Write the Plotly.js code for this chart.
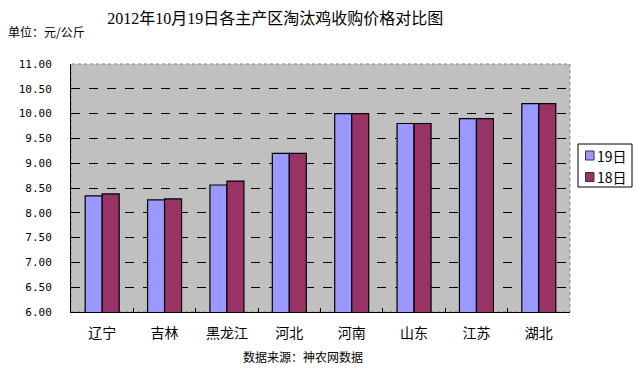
<!DOCTYPE html>
<html><head><meta charset="utf-8">
<script src="https://cdn.plot.ly/plotly-3.0.1.min.js"></script>
<style>body{margin:0;background:#fff}#c{width:637px;height:370px}</style>
</head><body><div id="c"></div>
<script>
const categories = ["辽宁","吉林","黑龙江","河北","河南","山东","江苏","湖北"];
const s19 = [8.34, 8.26, 8.56, 9.20, 10.00, 9.80, 9.90, 10.20];
const s18 = [8.38, 8.28, 8.64, 9.20, 10.00, 9.80, 9.90, 10.20];
const seriesNames = ["19日","18日"];
const seriesColors = ['#9999FF','#993366'];
const yTicks = [6,6.5,7,7.5,8,8.5,9,9.5,10,10.5,11];

const cjk = '"Noto Sans CJK SC", sans-serif';
const traces = [
  {type:'bar', x:categories, y:s19, name:seriesNames[0], marker:{color:seriesColors[0], line:{color:'#000', width:1.2}}},
  {type:'bar', x:categories, y:s18, name:seriesNames[1], marker:{color:seriesColors[1], line:{color:'#000', width:1.2}}}
];

// manual legend (pixel -> paper conversion for plot area 71..570 x, 64..312 y)
const px = x => (x-71)/499, py = y => (312-y)/248;
const shapes = [
  {type:'rect', xref:'paper', yref:'paper', x0:0, x1:1, y0:0, y1:1, line:{color:'#808080', width:1, dash:'dot'}, layer:'below'},
  {type:'rect', xref:'paper', yref:'paper', x0:px(578), x1:px(632), y0:py(187), y1:py(144), fillcolor:'#fff', line:{color:'#000', width:1}}
];
const annotations = [
  {text:'单位：元/公斤', xref:'paper', yref:'paper', x:-0.13, y:1.13, xanchor:'left', yanchor:'middle', showarrow:false,
   font:{family:cjk, size:12, color:'#000'}},
  {text:'数据来源：神农网数据', xref:'paper', yref:'paper', x:0.465, y:-0.18, xanchor:'center', yanchor:'middle', showarrow:false,
   font:{family:cjk, size:12, color:'#000'}}
];
seriesNames.forEach((n,i)=>{
  const cy = 155.5 + i*21.5;
  shapes.push({type:'rect', xref:'paper', yref:'paper', x0:px(585.5), x1:px(594), y0:py(cy+4.5), y1:py(cy-4.5),
               fillcolor:seriesColors[i], line:{color:'#333', width:1}});
  annotations.push({text:n, xref:'paper', yref:'paper', x:px(595), y:py(cy), xanchor:'left', yanchor:'middle', showarrow:false,
                    font:{family:cjk, size:14, color:'#000'}});
});

const layout = {
  width:637, height:370,
  margin:{l:71, r:67, t:64, b:58, autoexpand:false},
  paper_bgcolor:'#fff', plot_bgcolor:'#C0C0C0',
  barmode:'group', bargap:0.455, bargroupgap:0,
  showlegend:false,
  title:{text:'2012年10月19日各主产区淘汰鸡收购价格对比图', x:0.432, xanchor:'center', y:0.95, yanchor:'middle',
         font:{family:'"Liberation Serif", "Noto Sans CJK SC", serif', size:16, color:'#000'}},
  xaxis:{type:'category', showline:true, linecolor:'#000', linewidth:1, ticks:'inside', ticklen:4, tickcolor:'#000',
         tickson:'boundaries', showgrid:false, ticklabelstandoff:8, tickfont:{family:cjk, size:14, color:'#000'}, fixedrange:true},
  yaxis:{range:[6,11], tickvals:yTicks, ticktext:yTicks.map(v=>v.toFixed(2)), showline:true, linecolor:'#000', linewidth:1,
         ticks:'', ticklabelstandoff:16, showgrid:true, gridcolor:'#000', griddash:'dash', gridwidth:1,
         zeroline:false, tickfont:{family:'"DejaVu Sans Mono", monospace', size:11, color:'#000'}, fixedrange:true},
  shapes:shapes,
  annotations:annotations
};
Plotly.newPlot('c', traces, layout, {displayModeBar:false, staticPlot:true});
</script></body></html>
